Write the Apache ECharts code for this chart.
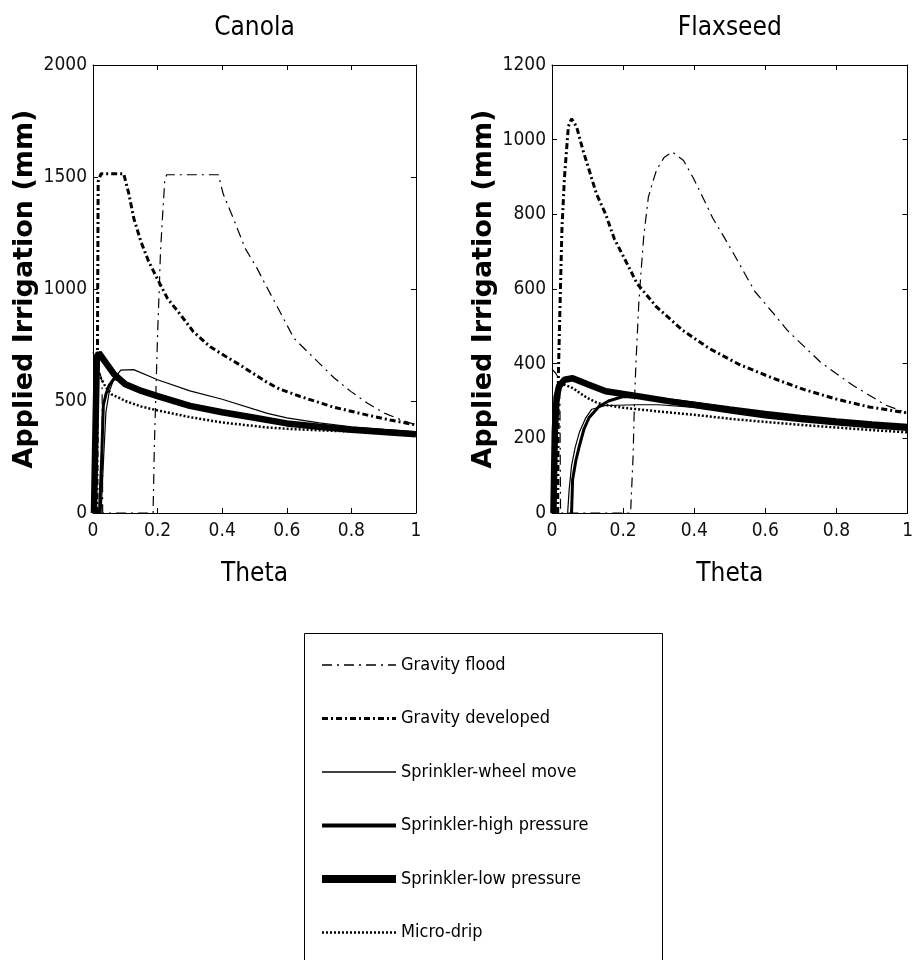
<!DOCTYPE html>
<html lang="en">
<head>
<meta charset="UTF-8">
<title>Applied Irrigation vs Theta</title>
<script src="https://cdn.jsdelivr.net/npm/echarts@6/dist/echarts.min.js"></script>
<style>
  *{margin:0;padding:0}
  html,body{width:100%;height:100%;background:#fff}
  #main{width:916px;height:960px}
</style>
</head>
<body>
<div id="main"></div>
<script>
var chart = echarts.init(document.getElementById('main'));

var seriesNames = ['Gravity flood', 'Gravity developed', 'Sprinkler-wheel move',
                   'Sprinkler-high pressure', 'Sprinkler-low pressure', 'Micro-drip'];
var panelTitles = ['Canola', 'Flaxseed'];

// Canola  [theta, applied irrigation mm]
var canolaFlood = [[0,720],[0.015,660],[0.028,590],[0.03,0],[0.186,0],[0.19,300],[0.196,600],[0.2,800],
  [0.205,1000],[0.209,1168],[0.215,1317],[0.222,1480],[0.228,1510],[0.388,1510],[0.403,1425],[0.434,1317],
  [0.471,1182],[0.508,1092],[0.528,1036],[0.58,895],[0.622,780],[0.684,692],[0.746,604],[0.798,543],
  [0.85,490],[0.902,446],[0.95,418],[1,393]];
var canolaDeveloped = [[0.012,0],[0.014,800],[0.016,1480],[0.025,1515],[0.095,1515],[0.111,1425],
  [0.126,1317],[0.148,1213],[0.172,1124],[0.2,1043],[0.231,957],[0.271,885],[0.311,809],[0.363,742],
  [0.41,700],[0.455,661],[0.538,584],[0.578,553],[0.642,520],[0.746,472],[0.85,437],[0.92,415],[1,393]];
var canolaWheel = [[0.025,0],[0.033,250],[0.04,450],[0.05,540],[0.065,600],[0.086,638],[0.126,640],
  [0.2,595],[0.3,545],[0.4,508],[0.54,445],[0.6,425],[0.7,402],[0.8,385],[0.9,373],[1,362]];
var canolaHigh = [[0.02,0],[0.027,250],[0.032,480],[0.04,530],[0.05,570],[0.065,600],[0.08,595],[0.1,580],
  [0.15,550],[0.2,527],[0.3,483],[0.4,454],[0.5,429],[0.6,404],[0.7,388],[0.8,375],[0.9,365],[1,356]];
var canolaLow = [[0.003,0],[0.008,400],[0.012,690],[0.018,715],[0.03,690],[0.05,650],[0.065,620],
  [0.1,575],[0.15,545],[0.2,522],[0.3,478],[0.4,450],[0.5,425],[0.6,400],[0.7,385],[0.8,372],[0.9,362],[1,352]];
var canolaDrip = [[0.004,0],[0.007,500],[0.01,640],[0.02,615],[0.04,560],[0.06,527],[0.077,517],[0.1,500],
  [0.15,475],[0.2,458],[0.3,428],[0.4,404],[0.54,382],[0.6,376],[0.7,369],[0.8,364],[0.9,359],[1,355]];

// Flaxseed  [theta, applied irrigation mm]
var flaxFlood = [[0,385],[0.01,375],[0.022,355],[0.024,0],[0.221,0],[0.228,150],[0.232,300],[0.236,400],
  [0.244,560],[0.25,640],[0.258,741],[0.271,846],[0.282,882],[0.294,919],[0.315,952],[0.338,967],[0.37,944],
  [0.397,898],[0.425,844],[0.452,790],[0.479,747],[0.507,701],[0.57,594],[0.626,531],[0.662,489],
  [0.708,447],[0.754,405],[0.8,373],[0.846,342],[0.902,310],[0.938,289],[1,268]];
var flaxDeveloped = [[0.016,0],[0.018,373],[0.023,573],[0.028,762],[0.035,898],[0.046,1035],[0.055,1056],
  [0.069,1035],[0.087,972],[0.104,920],[0.125,855],[0.151,800],[0.175,735],[0.202,685],[0.239,615],
  [0.294,552],[0.368,489],[0.442,441],[0.524,399],[0.616,363],[0.708,331],[0.8,305],[0.892,284],[1,268]];
var flaxWheel = [[0.044,0],[0.048,60],[0.055,127],[0.065,175],[0.077,216],[0.095,255],[0.112,278],
  [0.151,288],[0.24,290],[0.3,290],[0.4,283],[0.5,272],[0.6,261],[0.7,251],[0.8,242],[0.9,234],[1,227]];
var flaxHigh = [[0.055,0],[0.058,90],[0.067,140],[0.077,180],[0.09,225],[0.104,255],[0.132,285],[0.159,300],
  [0.2,312],[0.3,307],[0.4,295],[0.5,282],[0.6,270],[0.7,259],[0.8,250],[0.9,242],[1,235]];
var flaxLow = [[0.004,0],[0.008,220],[0.013,310],[0.02,340],[0.035,357],[0.058,361],[0.1,345],[0.151,326],
  [0.241,313],[0.332,299],[0.425,286],[0.515,273],[0.6,262],[0.7,252],[0.8,243],[0.9,235],[1,228]];
var flaxDrip = [[0.004,0],[0.008,250],[0.015,330],[0.03,345],[0.045,340],[0.06,334],[0.08,320],[0.1,308],
  [0.123,297],[0.14,291],[0.2,282],[0.3,272],[0.4,263],[0.515,251],[0.6,244],[0.7,236],[0.8,229],[0.9,222],[1,216]];

var panelData = [
  [canolaFlood, canolaDeveloped, canolaWheel, canolaHigh, canolaLow, canolaDrip],
  [flaxFlood, flaxDeveloped, flaxWheel, flaxHigh, flaxLow, flaxDrip]
];
var yMax = [2000, 1200];
var yStep = [500, 200];

// line look per method
var lineLook = [
  {width: 1.2, type: [10, 5, 2, 5]},
  {width: 3, type: [6, 3, 2, 3]},
  {width: 1.2, type: 'solid'},
  {width: 3, type: 'solid'},
  {width: 6.5, type: 'solid'},
  {width: 2.5, type: [2, 2]}
];
var legendWidths = [1.3, 3, 1.3, 4, 8, 2.5];

var narrow = "'Liberation Sans Narrow', 'Arial Narrow', 'DejaVu Sans Condensed', sans-serif";
var grids = [
  {left: 93, top: 65, width: 323, height: 448},
  {left: 552, top: 65, width: 363, height: 448}
];

function plain(v) { return String(+v.toFixed(1)); }

var xAxes = [], yAxes = [], series = [];
grids.forEach(function (g, p) {
    // bottom theta axis
    xAxes.push({
        type: 'value', gridIndex: p, min: 0, max: 1, interval: 0.2, position: 'bottom',
        name: 'Theta', nameLocation: 'middle', nameGap: 48,
        nameTextStyle: {fontFamily: narrow, fontSize: 26, color: '#000'},
        axisLine: {onZero: false, lineStyle: {color: '#000', width: 1}},
        axisTick: {inside: true, length: 5, lineStyle: {color: '#000'}},
        axisLabel: {fontFamily: narrow, fontSize: 19, color: '#111', margin: 9, formatter: plain},
        splitLine: {show: false}
    });
    // top axis carries the panel title
    xAxes.push({
        type: 'value', gridIndex: p, min: 0, max: 1, interval: 0.2, position: 'top',
        name: panelTitles[p], nameLocation: 'middle', nameGap: 24,
        nameTextStyle: {fontFamily: narrow, fontSize: 26, color: '#000'},
        axisLine: {onZero: false, lineStyle: {color: '#000', width: 1}},
        axisTick: {inside: true, length: 5, lineStyle: {color: '#000'}},
        axisLabel: {show: false},
        splitLine: {show: false}
    });
    yAxes.push({
        type: 'value', gridIndex: p, min: 0, max: yMax[p], interval: yStep[p], position: 'left',
        name: 'Applied Irrigation (mm)', nameLocation: 'middle', nameGap: 55, nameRotate: 90,
        nameTextStyle: {fontFamily: 'DejaVu Sans', fontWeight: 'bold', fontSize: 27, color: '#000'},
        axisLine: {show: true, onZero: false, lineStyle: {color: '#000', width: 1}},
        axisTick: {show: true, inside: true, length: 5, lineStyle: {color: '#000'}},
        axisLabel: {fontFamily: narrow, fontSize: 19, color: '#111', margin: 6, formatter: plain},
        splitLine: {show: false}
    });
    yAxes.push({
        type: 'value', gridIndex: p, min: 0, max: yMax[p], interval: yStep[p], position: 'right',
        axisLine: {show: true, onZero: false, lineStyle: {color: '#000', width: 1}},
        axisTick: {show: true, inside: true, length: 5, lineStyle: {color: '#000'}},
        axisLabel: {show: false},
        splitLine: {show: false}
    });
    panelData[p].forEach(function (pts, i) {
        series.push({
            name: seriesNames[i],
            type: 'line',
            xAxisIndex: p * 2,
            yAxisIndex: p * 2,
            data: pts,
            symbol: 'none',
            animation: false,
            lineStyle: {color: '#000', width: lineLook[i].width, type: lineLook[i].type}
        });
    });
});

var option = {
    backgroundColor: '#fff',
    grid: grids,
    xAxis: xAxes,
    yAxis: yAxes,
    legend: {
        orient: 'vertical',
        left: 318,
        top: 655,
        padding: 0,
        itemWidth: 74,
        itemHeight: 20,
        itemGap: 33.5,
        selectedMode: false,
        itemStyle: {opacity: 0},
        textStyle: {fontFamily: narrow, fontSize: 18, color: '#000', lineHeight: 20},
        data: seriesNames.map(function (n, i) {
            return {name: n, lineStyle: {width: legendWidths[i]}};
        })
    },
    graphic: [{
        type: 'rect',
        shape: {x: 304.5, y: 633.5, width: 358, height: 340},
        style: {fill: 'none', stroke: '#000', lineWidth: 1}
    }],
    series: series
};
chart.setOption(option);
</script>
</body>
</html>
